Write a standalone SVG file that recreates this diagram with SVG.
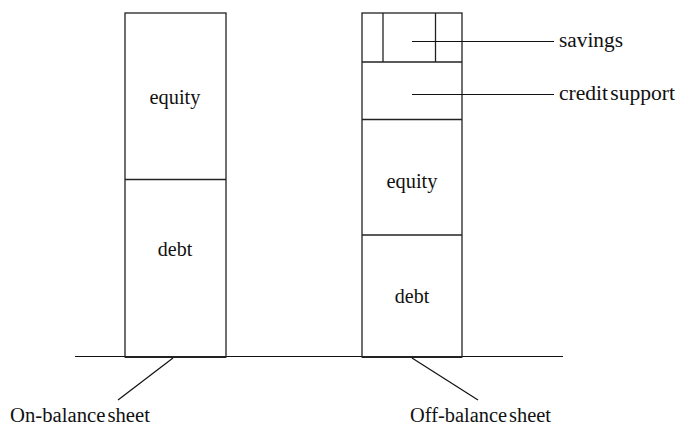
<svg xmlns="http://www.w3.org/2000/svg" width="678" height="426" viewBox="0 0 678 426">
  <style>
    .box { fill: none; stroke: #222; stroke-width: 1.3; }
    .base { stroke: #222; stroke-width: 2.2; }
    .line { stroke: #111; stroke-width: 1.2; fill: none; }
    text { font-family: "Liberation Serif", "Times New Roman", serif; font-size: 20px; fill: #111; word-spacing: -3px; }
    .mid { text-anchor: middle; }
  </style>
  <rect width="678" height="426" fill="#fff"/>

  <!-- ground line -->
  <g id="ground">
    <line class="line" x1="75" y1="356.5" x2="563" y2="356.5"/>
  </g>

  <!-- on-balance-sheet column -->
  <g id="on-balance">
    <rect class="box" x="125" y="13" width="101" height="344"/>
    <line class="box" x1="125" y1="179.5" x2="226" y2="179.5"/>
    <line class="base" x1="125" y1="357" x2="226" y2="357"/>
    <text class="mid" x="175" y="104" textLength="51" lengthAdjust="spacingAndGlyphs">equity</text>
    <text class="mid" x="175" y="256">debt</text>
  </g>

  <!-- off-balance-sheet column -->
  <g id="off-balance">
    <rect class="box" x="362" y="13" width="100" height="344"/>
    <line class="box" x1="362" y1="62" x2="462" y2="62"/>
    <line class="box" x1="383" y1="13" x2="383" y2="62"/>
    <line class="box" x1="435.5" y1="13" x2="435.5" y2="62"/>
    <line class="box" x1="362" y1="119.5" x2="462" y2="119.5"/>
    <line class="box" x1="362" y1="235" x2="462" y2="235"/>
    <line class="base" x1="362" y1="357" x2="462" y2="357"/>
    <text class="mid" x="412" y="188" textLength="51" lengthAdjust="spacingAndGlyphs">equity</text>
    <text class="mid" x="412" y="303">debt</text>
  </g>

  <!-- labels -->
  <g id="label-savings">
    <text x="559" y="47" textLength="64" lengthAdjust="spacingAndGlyphs">savings</text>
  </g>
  <g id="label-credit">
    <text x="559" y="100" textLength="116" lengthAdjust="spacingAndGlyphs">credit support</text>
  </g>
  <g id="label-on">
    <text x="10" y="422" textLength="140" lengthAdjust="spacingAndGlyphs">On-balance sheet</text>
  </g>
  <g id="label-off">
    <text x="410" y="422" textLength="141" lengthAdjust="spacingAndGlyphs">Off-balance sheet</text>
  </g>

  <!-- leader lines -->
  <g id="connectors">
    <line class="line" x1="412" y1="41.5" x2="554" y2="41.5"/>
    <line class="line" x1="412" y1="94.5" x2="554" y2="94.5"/>
    <line class="line" x1="173" y1="358" x2="118" y2="400"/>
    <line class="line" x1="412" y1="358" x2="478" y2="400"/>
  </g>
</svg>
